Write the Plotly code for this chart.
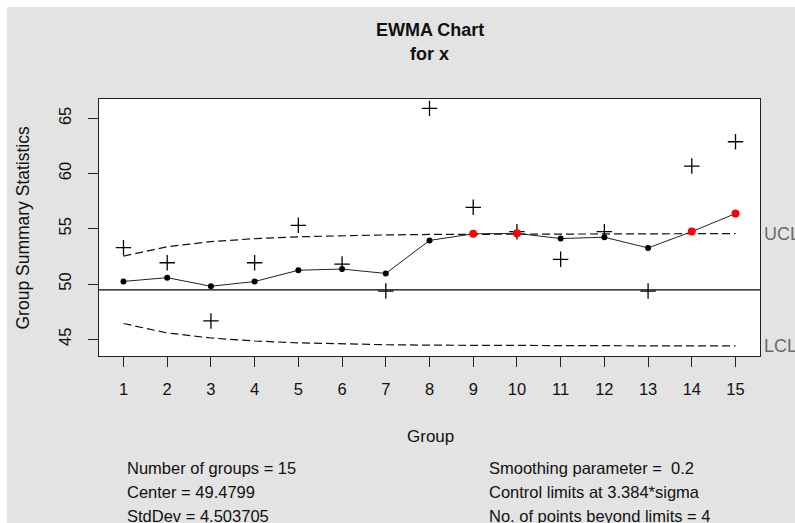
import plotly.graph_objects as go

# EWMA chart for x: group statistics, smoothed values and control limits
groups = list(range(1, 16))
stats = [53.29, 51.93, 46.66, 51.93, 55.32, 51.81, 49.37, 65.90,
         56.95, 54.74, 52.24, 54.74, 49.37, 60.68, 62.88]
ewma = [50.24, 50.58, 49.80, 50.23, 51.25, 51.36, 50.96, 53.95,
        54.55, 54.59, 54.12, 54.24, 53.27, 54.75, 56.38]
ucl = [52.53, 53.38, 53.84, 54.11, 54.28, 54.38, 54.45, 54.49,
       54.51, 54.53, 54.54, 54.55, 54.55, 54.56, 54.56]
lcl = [46.43, 45.58, 45.12, 44.85, 44.68, 44.58, 44.51, 44.47,
       44.45, 44.43, 44.42, 44.41, 44.41, 44.40, 44.40]
center = 49.4799
y_ticks = [45, 50, 55, 60, 65]

summary_left = ["Number of groups = 15", "Center = 49.4799", "StdDev = 4.503705"]
summary_right = ["Smoothing parameter =  0.2", "Control limits at 3.384*sigma",
                 "No. of points beyond limits = 4"]

FONT = "Liberation Sans, Arial, sans-serif"
W, H = 795, 523
L, R, T, B = 99, 35, 99, 167
PW, PH = W - L - R, H - T - B


def px_x(px):
    return (px - L) / PW


def px_y(py):
    return (H - B - py) / PH


beyond = [e > u or e < l for e, u, l in zip(ewma, ucl, lcl)]
dot_colors = ["#ff0000" if b else "#000000" for b in beyond]
dot_sizes = [8 if b else 6 for b in beyond]

fig = go.Figure()

# control limits
for lim in (ucl, lcl):
    fig.add_trace(go.Scatter(x=groups, y=lim, mode="lines",
                             line=dict(color="#111111", width=1.2, dash="8px,4px"),
                             hoverinfo="skip", showlegend=False))

# center line
fig.add_trace(go.Scatter(x=[0.44, 15.56], y=[center, center], mode="lines",
                         line=dict(color="#000000", width=1.3),
                         hoverinfo="skip", showlegend=False))

# group statistics
fig.add_trace(go.Scatter(x=groups, y=stats, mode="markers",
                         marker=dict(symbol="cross-thin-open", size=11,
                                     color="#000000",
                                     line=dict(color="#000000", width=1.3)),
                         showlegend=False))

# smoothed statistics
fig.add_trace(go.Scatter(x=groups, y=ewma, mode="lines+markers",
                         line=dict(color="#222222", width=1),
                         marker=dict(color=dot_colors, size=dot_sizes,
                                     opacity=1, line=dict(width=0)),
                         showlegend=False))

annotations = [
    dict(text="<b>EWMA Chart</b>", x=0.5, y=px_y(30), font=dict(size=18)),
    dict(text="<b>for x</b>", x=0.5, y=px_y(54), font=dict(size=18)),
    dict(text="Group", x=px_x(430), y=px_y(436), font=dict(size=17)),
    dict(text="Group Summary Statistics", x=px_x(22), y=0.5, textangle=-90,
         font=dict(size=17.5)),
]
for i, t in enumerate(summary_left):
    annotations.append(dict(text=t, x=px_x(125), y=px_y(468 + 24 * i),
                            xanchor="left", font=dict(size=16.5)))
for i, t in enumerate(summary_right):
    annotations.append(dict(text=t, x=px_x(487), y=px_y(468 + 24 * i),
                            xanchor="left", font=dict(size=16.5)))
for lab, val in (("UCL", ucl[-1]), ("LCL", lcl[-1])):
    annotations.append(dict(text=lab, x=px_x(762), y=val, yref="y",
                            xanchor="left", font=dict(size=18, color="#6b6b6b")))

for a in annotations:
    a.setdefault("xref", "paper")
    a.setdefault("yref", "paper")
    a.setdefault("xanchor", "center")
    a.setdefault("yanchor", "middle")
    a["showarrow"] = False
    a["font"].setdefault("color", "#111111")
    a["font"]["family"] = FONT

fig.update_layout(
    width=W, height=H,
    margin=dict(l=L, r=R, t=T, b=B, pad=0),
    paper_bgcolor="#e3e3e3",
    plot_bgcolor="#ffffff",
    font=dict(family=FONT, size=16.5, color="#111111"),
    annotations=annotations,
    shapes=[
        dict(type="rect", xref="paper", yref="paper", layer="above",
             x0=px_x(0), x1=px_x(W), y0=px_y(7), y1=px_y(0),
             fillcolor="#ffffff", line=dict(width=0)),
        dict(type="rect", xref="paper", yref="paper", layer="above",
             x0=px_x(0), x1=px_x(7), y0=px_y(H), y1=px_y(0),
             fillcolor="#ffffff", line=dict(width=0)),
    ],
    xaxis=dict(range=[0.44, 15.56], tickmode="array", tickvals=groups,
               ticktext=[str(g) for g in groups], ticks="outside", ticklen=10,
               tickcolor="#222222", tickwidth=1, showgrid=False, zeroline=False,
               showline=True, linecolor="#222222", linewidth=1.3, mirror=True,
               ticklabelstandoff=8),
    yaxis=dict(range=[43.49, 66.75], tickmode="array", tickvals=y_ticks,
               ticktext=[str(v) for v in y_ticks], ticks="outside", ticklen=10,
               tickcolor="#222222", tickwidth=1, tickangle=-90, showgrid=False,
               zeroline=False, showline=True, linecolor="#222222", linewidth=1.3,
               mirror=True, ticklabelstandoff=10),
)

fig.write_html("out.html")
